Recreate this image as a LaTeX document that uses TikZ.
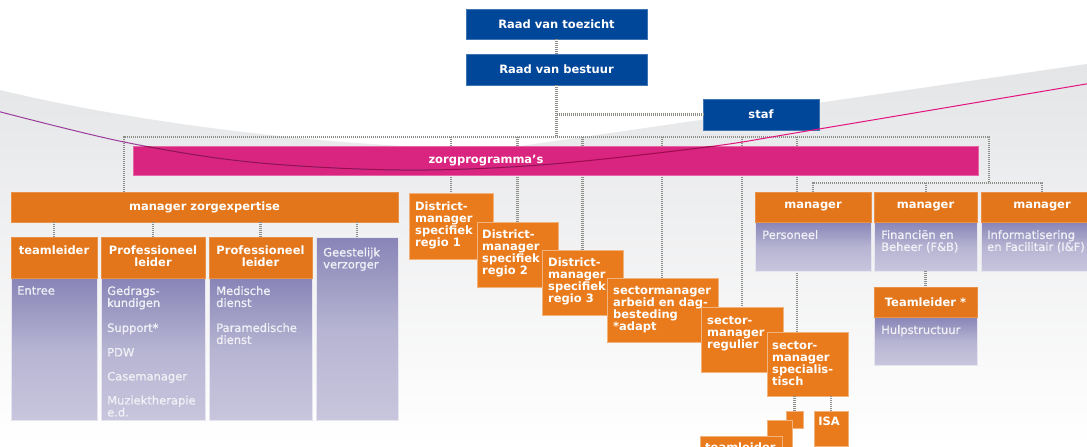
\documentclass[tikz,border=0pt]{standalone}
\usepackage{fontspec}
\setmainfont{DejaVu Sans}
\newfontfamily\bodyfam{DejaVu Sans}[FakeBold=0.9]
\usetikzlibrary{calc}
\definecolor{rvblue}{HTML}{00479A}
\definecolor{zpink}{HTML}{DA2580}
\definecolor{orng}{HTML}{E3761B}
\definecolor{dorng}{HTML}{E97B1D}
\definecolor{oedge}{HTML}{F2B27C}
\definecolor{ptop}{HTML}{8884B7}
\definecolor{pmid}{HTML}{B6B4D2}
\definecolor{pbot}{HTML}{C8C6DD}
\definecolor{bodytxt}{HTML}{F0F0F6}
\definecolor{dotgray}{HTML}{8E8E88}
\definecolor{bggrey}{HTML}{E4E5E7}
\definecolor{lpurple}{HTML}{9B3D9C}
\definecolor{lmagenta}{HTML}{E3137F}
\definecolor{ldark}{HTML}{9A0E50}
\newcommand\hdrfont{\bfseries\fontsize{11.5}{11.5}\selectfont}
\newcommand\distfont{\bfseries\fontsize{11.5}{12}\selectfont}
\newcommand\bodyfont{\bodyfam\fontsize{11.5}{12}\selectfont}
\begin{document}
\begin{tikzpicture}[x=1pt,y=-1pt,
  box/.style={anchor=north west, inner sep=0pt, outer sep=0pt},
  bluebox/.style={box, fill=rvblue, draw=rvblue!75!white, line width=0.6pt, text=white, font=\hdrfont},
  obox/.style={box, fill=orng, draw=orng!80!white, line width=0.6pt, text=white, font=\hdrfont},
  dbox/.style={box, fill=dorng, draw=oedge, line width=0.8pt},
  pbody/.style={box, top color=ptop, bottom color=pbot, middle color=pmid, draw=white!55!pbot, line width=0.5pt},
  htext/.style={text=white, font=\hdrfont, align=center, anchor=north, inner sep=0pt},
  bodytext/.style={text=bodytxt, font=\bodyfont, align=left, anchor=north west, inner sep=0pt},
  dtext/.style={text=white, font=\distfont, align=left, anchor=north west, inner sep=0pt},
  conn/.style={draw=dotgray, line width=2.2pt, dash pattern=on 1.1pt off 0.9pt},
]
\useasboundingbox (0,0) rectangle (1087,447);
\clip (0,0) rectangle (1087,447);
% background
\fill[white] (0,0) rectangle (1087,447);
\shade[top color=bggrey, middle color=bggrey!65!white, bottom color=white]
  (0,90) .. controls (170,131) and (380,149) .. (500,149) -- (1087,64) -- (1087,447) -- (0,447) -- cycle;

% coordinates for connector corners
\coordinate (tl) at (124,137);
\coordinate (tr) at (989,137);
\coordinate (br) at (989,183);
\coordinate (bl) at (813,183);
\coordinate (be) at (1042,183);
\coordinate (sx) at (797,137);

% nodes (boxes)
\node[bluebox, minimum width=181pt, minimum height=30pt] (rvt) at (466,9) {Raad van toezicht};
\node[bluebox, minimum width=181pt, minimum height=31pt] (rvb) at (466,54) {Raad van bestuur};
\node[bluebox, minimum width=116pt, minimum height=31pt] (staf) at (703,99) {staf};

% connectors (behind boxes)
\draw[conn] (rvt) -- (rvb);
\draw[conn] (rvb.south) -- (rvb.south |- tl);
\draw[conn] (rvb.south |- staf.west) -- (staf.west);
\draw[conn] (124,192) -- (tl) -- (tr) -- (br);
\draw[conn] (813,192) -- (bl) -- (be) -- (1042,192);
\draw[conn] (926,183) -- (926,192);
\draw[conn] (451,137) -- (451,193);
\draw[conn] (517.5,137) -- (517.5,222);
\draw[conn] (582.5,137) -- (582.5,250);
\draw[conn] (662,137) -- (662,278);
\draw[conn] (742,137) -- (742,307);
\draw[conn] (sx) -- (797,332);

\node[box, fill=zpink, draw=zpink!70!white, line width=0.6pt, minimum width=845pt, minimum height=29pt] (zorg) at (133,146) {};
\node[text=white, font=\hdrfont, inner sep=0pt] (zorgt) at (486,160.5) {zorgprogramma’s};

% manager zorgexpertise and columns
\node[obox, minimum width=387pt, minimum height=30pt] (mze) at (11,192) {manager zorgexpertise};

\node[pbody, minimum width=86pt, minimum height=142pt] (c1b) at (11,278) {};
\node[obox, minimum width=86pt, minimum height=41pt] (c1) at (11,237) {};
\node[htext] at (54,246) {teamleider};
\node[bodytext] at (17,286) {Entree};

\node[pbody, minimum width=104pt, minimum height=142pt] (c2b) at (101,278) {};
\node[obox, minimum width=104pt, minimum height=41pt] (c2) at (101,237) {};
\node[htext] at (153,246) {Professioneel\\leider};
\node[bodytext] at (107,286) {Gedrags-\\kundigen\\[13pt]Support*\\[12.5pt]PDW\\[12pt]Casemanager\\[12pt]Muziektherapie\\e.d.};

\node[pbody, minimum width=103pt, minimum height=142pt] (c3b) at (209,278) {};
\node[obox, minimum width=103pt, minimum height=41pt] (c3) at (209,237) {};
\node[htext] at (260.5,246) {Professioneel\\leider};
\node[bodytext] at (216,286) {Medische\\dienst\\[13pt]Paramedische\\dienst};

\node[pbody, minimum width=82pt, minimum height=183pt] (c4) at (316,237) {};
\node[bodytext] at (323,247.5) {Geestelijk\\verzorger};

\draw[conn] (mze.south -| c1.north) -- (c1.north);
\draw[conn] (mze.south -| c2.north) -- (c2.north);
\draw[conn] (mze.south -| c3.north) -- (c3.north);
\draw[conn] (mze.south -| c4.north) -- (c4.north);

% right managers
\node[pbody, minimum width=116pt, minimum height=49pt] (persb) at (755,222) {};
\node[obox, minimum width=116pt, minimum height=30pt] (pers) at (755,192) {manager};
\node[bodytext] at (762,230) {Personeel};

\node[pbody, minimum width=103pt, minimum height=49pt] (fbb) at (874,222) {};
\node[obox, minimum width=103pt, minimum height=30pt] (fb) at (874,192) {manager};
\node[bodytext] at (881,230) {Financiën en\\Beheer (F\&B)};

\node[pbody, minimum width=122pt, minimum height=49pt] (iafb) at (981,222) {};
\node[obox, minimum width=122pt, minimum height=30pt] (iaf) at (981,192) {manager};
\node[bodytext] at (987,230) {Informatisering\\en Facilitair (I\&F)};

\node[pbody, minimum width=103pt, minimum height=48pt] (tlb) at (874,317) {};
\node[obox, minimum width=103pt, minimum height=30pt] (tlh) at (874,287) {Teamleider *};
\node[bodytext] at (881,325) {Hulpstructuur};
\draw[conn] (fbb.south) -- (tlh.north);

% district and sector boxes
\node[dbox, minimum width=84pt, minimum height=66pt] (d1) at (409,193) {};
\node[dtext] at (415,202) {District-\\manager\\specifiek\\regio 1};
\node[dbox, minimum width=81pt, minimum height=65pt] (d2) at (477,222) {};
\node[dtext] at (482,230) {District-\\manager\\specifiek\\regio 2};
\node[dbox, minimum width=81pt, minimum height=65pt] (d3) at (542,250) {};
\node[dtext] at (548,258) {District-\\manager\\specifiek\\regio 3};
\node[dbox, minimum width=111pt, minimum height=64pt] (arb) at (607,278) {};
\node[dtext] at (613,286) {sectormanager\\arbeid en dag-\\besteding\\*adapt};
\node[dbox, minimum width=82pt, minimum height=65pt] (reg) at (701,307) {};
\node[dtext] at (707,316) {sector-\\manager\\regulier};
\node[dbox, minimum width=81pt, minimum height=64pt] (spec) at (767,332) {};
\node[dtext] at (772,341) {sector-\\manager\\specialis-\\tisch};

\node[dbox, minimum width=17pt, minimum height=17pt] (sa) at (786,411) {};
\node[dbox, minimum width=25pt, minimum height=30pt] (sb) at (767,420) {};
\node[dbox, minimum width=82pt, minimum height=20pt] (sc) at (700,436) {};
\node[dtext] at (705,443) {teamleider};
\node[dbox, minimum width=34pt, minimum height=35pt] (isa) at (814,411) {};
\node[text=white, font=\hdrfont, inner sep=0pt, anchor=north] at (829,417) {ISA};
\draw[conn] (spec.south -| sa.north) -- (sa.north);
\draw[conn] (spec.south -| isa.north) -- (isa.north);

% the sweeping line
\def\sweep{plot[smooth, tension=0.55] coordinates {(-5,110.5) (124,142) (250,162) (400,170) (540,165) (707,147) (807,131) (1092,83)}}
\begin{scope}
  \clip (0,0) rectangle (560,447);
  \draw[lpurple, line width=1pt] \sweep;
\end{scope}
\begin{scope}
  \clip (560,0) rectangle (1087,447);
  \draw[lmagenta, line width=1pt] \sweep;
\end{scope}
\begin{scope}
  \clip (zorg.north west) rectangle (zorg.south east);
  \draw[ldark, line width=1pt] \sweep;
\end{scope}
\end{tikzpicture}
\end{document}
